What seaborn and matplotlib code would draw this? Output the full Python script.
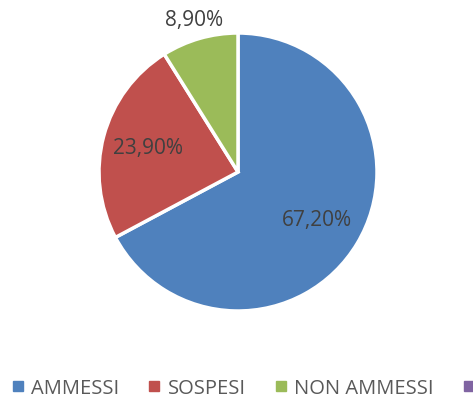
import matplotlib
matplotlib.use("Agg")
import matplotlib.pyplot as plt
from matplotlib.lines import Line2D
import numpy as np
import seaborn as sns

categories = ["AMMESSI", "SOSPESI", "NON AMMESSI", ""]
values = [67.20, 23.90, 8.90, 0.0]
colors = ["#4F81BD", "#C0504D", "#9BBB59", "#8064A2"]
label_dist = [0.66, 0.67, 1.14]

sns.set_style("white")
plt.rcParams['font.family'] = ['Open Sans', 'DejaVu Sans']

fig = plt.figure(figsize=(4.73, 4.02), dpi=100)
ax = fig.add_axes([99 / 473, 90 / 402, 278 / 473, 278 / 402])

shown = [v for v in values if v > 0]
wedges, _ = ax.pie(shown, colors=colors[:len(shown)], startangle=90, counterclock=False,
                   wedgeprops=dict(edgecolor="white", linewidth=2.5), radius=1)
ax.set_xlim(-1, 1)
ax.set_ylim(-1, 1)
ax.set_aspect("equal")

for w, v, d in zip(wedges, shown, label_dist):
    ang = np.deg2rad((w.theta1 + w.theta2) / 2)
    txt = f"{v:.2f}".replace(".", ",") + "%"
    ax.text(d * np.cos(ang), d * np.sin(ang), txt, ha="center", va="center",
            fontsize=15, color="#404040")

handles = [Line2D([0], [0], marker="s", linestyle="", markersize=7.5,
                  markerfacecolor=c, markeredgecolor=c) for c in colors]
fig.legend(handles, categories, loc="center left", bbox_to_anchor=(-0.013, 0.032),
           ncol=4, frameon=False, fontsize=14.5, labelcolor="#595959",
           handlelength=0.6, handletextpad=0.35, columnspacing=1.45)

fig.savefig("out.png", dpi=100)
